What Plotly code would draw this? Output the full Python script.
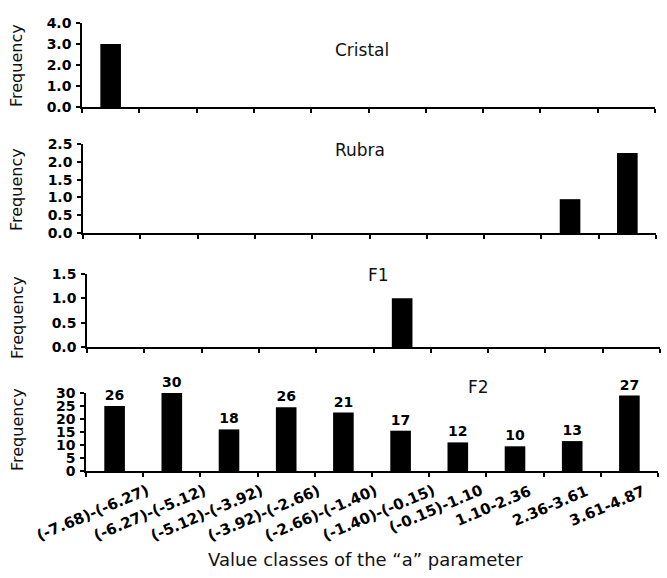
import plotly.graph_objects as go

W, H = 667, 578

categories = ["(-7.68)-(-6.27)", "(-6.27)-(-5.12)", "(-5.12)-(-3.92)", "(-3.92)-(-2.66)",
              "(-2.66)-(-1.40)", "(-1.40)-(-0.15)", "(-0.15)-1.10", "1.10-2.36",
              "2.36-3.61", "3.61-4.87"]
cristal = [3.0, 0, 0, 0, 0, 0, 0, 0, 0, 0]
rubra = [0, 0, 0, 0, 0, 0, 0, 0, 0.95, 2.25]
f1 = [0, 0, 0, 0, 0, 1.0, 0, 0, 0, 0]
f2_heights = [25, 30, 16, 24.5, 22.5, 15.5, 11, 9.5, 11.5, 29]
f2_labels = [26, 30, 18, 26, 21, 17, 12, 10, 13, 27]
panel_titles = ["Cristal", "Rubra", "F1", "F2"]
y_ranges = [[0, 4], [0, 2.5], [0, 1.5], [0, 30]]
y_dticks = [1, 0.5, 0.5, 5]
y_formats = [".1f", ".1f", ".1f", "d"]

# pixel layout (left, right, top, bottom of each plot area)
px_boxes = [(82, 655, 23, 107), (83, 656, 144, 233), (87, 660, 274, 347), (86, 658, 393, 471)]
title_pos = [(362, 50), (360, 150), (378, 275), (478, 387)]
freq_y = [66, 190, 318, 430]

TICKFONT = dict(family="DejaVu Sans", size=14, color="black", weight="bold")
XLABFONT = dict(family="DejaVu Sans", size=15, color="black", weight="bold")
TITLEFONT = dict(family="DejaVu Sans", size=17, color="#111")
FREQFONT = dict(family="DejaVu Sans", size=16, color="#111")

fig = go.Figure()
series = [cristal, rubra, f1, f2_heights]
for i, vals in enumerate(series):
    sfx = "" if i == 0 else str(i + 1)
    kw = {}
    if i == 3:
        kw = dict(text=[str(v) for v in f2_labels], textposition="outside",
                  textfont=TICKFONT, cliponaxis=False, constraintext="none")
    fig.add_trace(go.Bar(x=categories, y=vals, marker=dict(color="black", line=dict(width=0)),
                         xaxis="x" + sfx, yaxis="y" + sfx, showlegend=False, **kw))
    l, r, t, b = px_boxes[i]
    fig.layout["xaxis" + sfx] = dict(
        domain=[l / W, r / W], anchor="y" + sfx, type="category", range=[-0.5, 9.5],
        showline=True, linecolor="black", linewidth=1.5, ticks="outside", ticklen=4,
        tickcolor="black", tickwidth=1.5, tickson="boundaries", showgrid=False, zeroline=False,
        showticklabels=False, automargin=False)
    fig.layout["yaxis" + sfx] = dict(
        domain=[1 - b / H, 1 - t / H], anchor="x" + sfx, range=y_ranges[i], dtick=y_dticks[i],
        tickformat=y_formats[i], showline=True, linecolor="black", linewidth=1.5,
        ticks="outside", ticklen=4, tickcolor="black", tickwidth=1.5, showgrid=False,
        zeroline=False, tickfont=TICKFONT, ticklabelstandoff=2, automargin=False)
    tx, ty = title_pos[i]
    fig.add_annotation(text=panel_titles[i], x=tx / W, y=1 - ty / H, xref="paper", yref="paper",
                       showarrow=False, font=TITLEFONT, xanchor="center", yanchor="middle")
    fig.add_annotation(text="Frequency", x=17 / W, y=1 - freq_y[i] / H, xref="paper", yref="paper",
                       showarrow=False, font=FREQFONT, textangle=-90, xanchor="center", yanchor="middle")

# rotated category labels under the F2 panel
for c in categories:
    fig.add_annotation(text=c, x=c, y=0, xref="x4", yref="y4", showarrow=False,
                       textangle=-23, xanchor="center", yanchor="top", xshift=-22, yshift=-8,
                       font=XLABFONT)

fig.add_annotation(text="Value classes of the \u201ca\u201d parameter", x=365 / W, y=1 - 559 / H,
                   xref="paper", yref="paper", showarrow=False,
                   font=dict(family="DejaVu Sans", size=18, color="#111"),
                   xanchor="center", yanchor="middle")

fig.update_layout(width=W, height=H, margin=dict(l=0, r=0, t=0, b=0, autoexpand=False),
                  plot_bgcolor="white", paper_bgcolor="white", bargap=0.64)

fig.write_html("out.html")
